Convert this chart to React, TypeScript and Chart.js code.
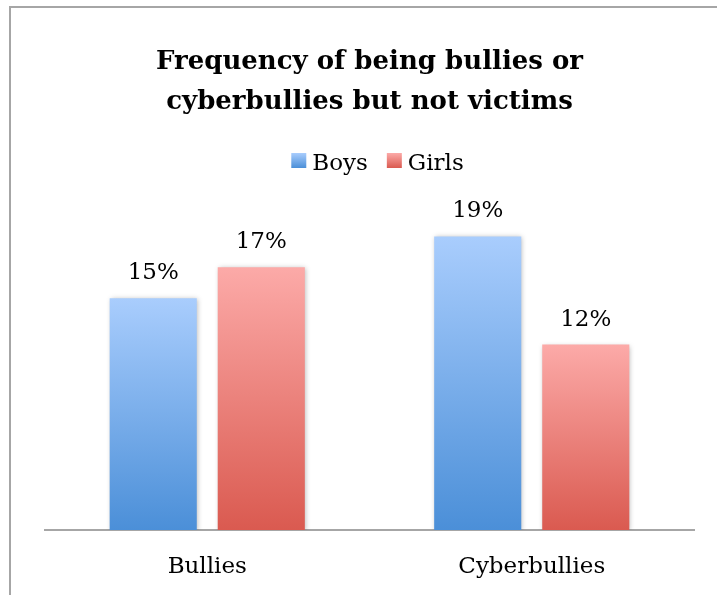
import React, { useEffect, useRef } from "react";
import { Chart, registerables } from "chart.js";

Chart.register(...registerables);

const categories = ["Bullies", "Cyberbullies"];
const seriesNames = ["Boys", "Girls"];
const boysValues = [15, 19];
const girlsValues = [17, 12];
const titleLines = ["Frequency of being bullies or", "cyberbullies but not victims"];
const yMin = 0;
const yMax = 20;

const FONT = "'DejaVu Serif', serif";
const boysStops = ["#a9cdfd", "#4b8fd8"];
const girlsStops = ["#fcaaa8", "#da5a50"];

function barGradient(c: any, stops: string[]) {
  const chart = c.chart;
  if (!chart.chartArea || c.type !== "data" || !chart.scales.y) return stops[1];
  const v = c.parsed ? c.parsed.y : c.raw;
  const ys = chart.scales.y;
  const top = ys.getPixelForValue(v);
  const bottom = ys.getPixelForValue(0);
  const g = chart.ctx.createLinearGradient(0, top, 0, bottom);
  g.addColorStop(0, stops[0]);
  g.addColorStop(1, stops[1]);
  return g;
}

const framePlugin = {
  id: "frame",
  beforeDraw(chart: any) {
    const ctx = chart.ctx;
    ctx.save();
    ctx.strokeStyle = "#a6a6a6";
    ctx.lineWidth = 2;
    ctx.beginPath();
    ctx.moveTo(10, chart.height);
    ctx.lineTo(10, 7);
    ctx.lineTo(chart.width, 7);
    ctx.stroke();
    ctx.restore();
  },
};

const shadowPlugin = {
  id: "barShadow",
  beforeDatasetsDraw(chart: any) {
    const ctx = chart.ctx;
    ctx.save();
    ctx.shadowColor = "rgba(0,0,0,0.28)";
    ctx.shadowBlur = 5;
    ctx.shadowOffsetX = 1;
    ctx.shadowOffsetY = 1;
  },
  afterDatasetsDraw(chart: any) {
    chart.ctx.restore();
  },
};

const valueLabelPlugin = {
  id: "valueLabels",
  afterDraw(chart: any) {
    const ctx = chart.ctx;
    ctx.save();
    ctx.font = `23px ${FONT}`;
    ctx.fillStyle = "#000";
    ctx.textAlign = "center";
    ctx.textBaseline = "alphabetic";
    chart.data.datasets.forEach((ds: any, i: number) => {
      const meta = chart.getDatasetMeta(i);
      meta.data.forEach((el: any, j: number) => {
        ctx.fillText(`${ds.data[j]}%`, el.x, el.y - 19);
      });
    });
    ctx.restore();
  },
};

const legendPlugin = {
  id: "customLegend",
  afterDraw(chart: any) {
    const ctx = chart.ctx;
    ctx.save();
    ctx.font = `23px ${FONT}`;
    ctx.textBaseline = "alphabetic";
    ctx.textAlign = "left";
    const box = 15;
    const gapText = 6;
    const gapItem = 19;
    const items = chart.data.datasets.map((ds: any, i: number) => ({
      label: ds.label,
      stops: i === 0 ? boysStops : girlsStops,
      w: ctx.measureText(ds.label).width,
    }));
    const total =
      items.reduce((s: number, it: any) => s + box + gapText + it.w, 0) + gapItem * (items.length - 1);
    const cx = (chart.chartArea.left + chart.chartArea.right) / 2 + 8;
    let x = cx - total / 2;
    const boxTop = 153;
    items.forEach((it: any) => {
      const g = ctx.createLinearGradient(0, boxTop, 0, boxTop + box);
      g.addColorStop(0, it.stops[0]);
      g.addColorStop(1, it.stops[1]);
      ctx.fillStyle = g;
      ctx.fillRect(x, boxTop, box, box);
      ctx.fillStyle = "#000";
      ctx.fillText(it.label, x + box + gapText, boxTop + 17);
      x += box + gapText + it.w + gapItem;
    });
    ctx.restore();
  },
};

export default function App() {
  const ref = useRef<HTMLCanvasElement | null>(null);
  useEffect(() => {
    if (!ref.current) return;
    const chart = new Chart(ref.current, {
      type: "bar",
      data: {
        labels: categories,
        datasets: [
          {
            label: seriesNames[0],
            data: boysValues,
            backgroundColor: (c: any) => barGradient(c, boysStops),
            borderWidth: 0,
            categoryPercentage: 0.666,
            barPercentage: 0.806,
          },
          {
            label: seriesNames[1],
            data: girlsValues,
            backgroundColor: (c: any) => barGradient(c, girlsStops),
            borderWidth: 0,
            categoryPercentage: 0.666,
            barPercentage: 0.806,
          },
        ],
      },
      options: {
        responsive: false,
        animation: false,
        events: [],
        layout: { padding: { left: 45, right: 23, top: 0, bottom: 16 } },
        plugins: {
          legend: { display: false },
          tooltip: { enabled: false },
          title: {
            display: true,
            text: titleLines,
            color: "#000",
            font: { family: FONT, size: 26, weight: "bold", lineHeight: 40 / 26 },
            padding: { top: 42, bottom: 99 },
          },
        },
        scales: {
          x: {
            grid: { display: false },
            border: { display: true, color: "#a6a6a6", width: 2 },
            ticks: { color: "#000", font: { family: FONT, size: 23 }, padding: 15 },
            afterFit: (scale: any) => {
              scale.height = 49;
            },
          },
          y: {
            display: false,
            min: yMin,
            max: yMax,
          },
        },
      },
      plugins: [framePlugin, shadowPlugin, valueLabelPlugin, legendPlugin],
    });
    return () => chart.destroy();
  }, []);
  return (
    <div style={{ position: "absolute", left: 0, top: 0, width: 717, height: 595, background: "#fff" }}>
      <canvas ref={ref} width={717} height={595} style={{ display: "block" }} />
    </div>
  );
}
